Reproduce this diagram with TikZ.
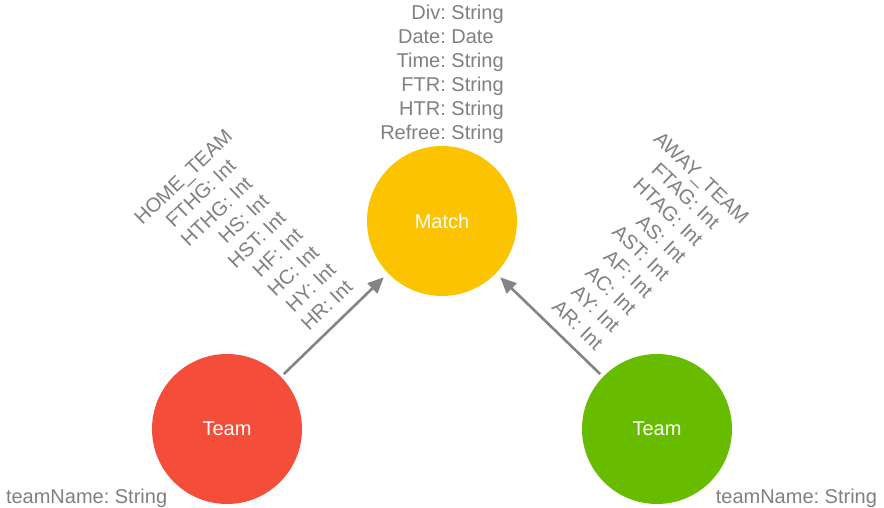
\documentclass[tikz,border=0pt]{standalone}
\usepackage{fontspec}
\setmainfont{Liberation Sans}
\usetikzlibrary{arrows.meta}
\definecolor{nred}{HTML}{F44E3B}
\definecolor{nyellow}{HTML}{FCC400}
\definecolor{ngreen}{HTML}{68BC00}
\definecolor{tgray}{HTML}{808080}
\definecolor{agray}{HTML}{848484}
\begin{document}
\frenchspacing
\begin{tikzpicture}[x=1pt,y=-1pt,
  ent/.style={circle, minimum size=150pt, inner sep=0pt, outer sep=0pt, text=white, font=\fontsize{20}{24}\selectfont},
  props/.style={text=tgray, inner sep=0pt, outer sep=0pt, font=\fontsize{20}{24}\selectfont},
  rel/.style={draw=agray, line width=2.6pt, -{Triangle[length=16pt,width=14pt]}, shorten <=4pt, shorten >=6pt}]
\useasboundingbox (0,0) rectangle (884,508);
\node[ent, fill=nyellow] (match) at (442,221) {Match};
\node[ent, fill=nred] (home) at (227,429) {Team};
\node[ent, fill=ngreen] (away) at (657,429) {Team};
\draw[rel] (home) -- (match);
\draw[rel] (away) -- (match);
\node[props, anchor=south] (matchprops) at (442,146.5) {\begin{tabular}{@{}r@{:\ }l@{}}Div&String\\Date&Date\\Time&String\\FTR&String\\HTR&String\\Refree&String\end{tabular}};
\node[props, anchor=base west] (homeprops) at (6,503) {teamName:\ String};
\node[props, anchor=base east] (awayprops) at (877,503) {teamName:\ String};
\node[props, rotate=44, anchor=south] (homelbl) at (326.4,325.2) {\begin{tabular}{@{}c@{}}HOME\_TEAM\\\begin{tabular}[t]{@{}r@{:\ }l@{}}FTHG&Int\\HTHG&Int\\HS&Int\\HST&Int\\HF&Int\\HC&Int\\HY&Int\\HR&Int\end{tabular}\end{tabular}};
\node[props, rotate=-44, anchor=south] (awaylbl) at (558.4,325.9) {\begin{tabular}{@{}c@{}}AWAY\_TEAM\\\begin{tabular}[t]{@{}r@{:\ }l@{}}FTAG&Int\\HTAG&Int\\AS&Int\\AST&Int\\AF&Int\\AC&Int\\AY&Int\\AR&Int\end{tabular}\end{tabular}};
\end{tikzpicture}
\end{document}
